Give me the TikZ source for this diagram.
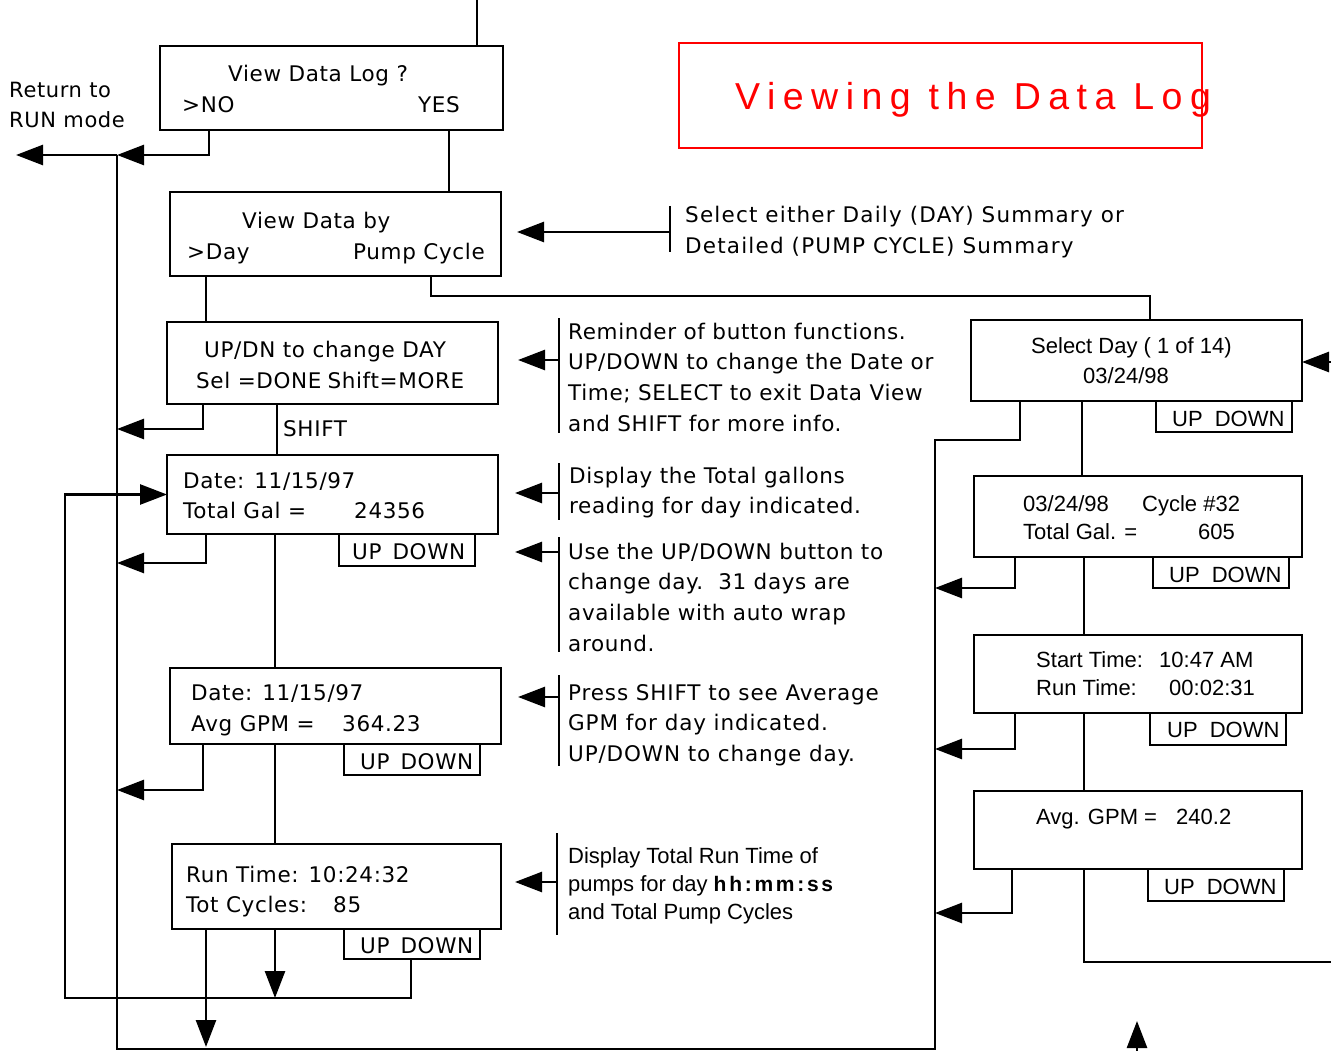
\documentclass[tikz,border=0pt]{standalone}
\usepackage{fontspec}
\setmainfont{DejaVu Sans}[LetterSpace=3]
\newfontfamily\arialfont{Liberation Sans}
\newfontfamily\titlefont{Liberation Sans}[LetterSpace=20]
\usetikzlibrary{arrows.meta}
\definecolor{titlered}{RGB}{255,0,0}
\begin{document}
\begin{tikzpicture}[x=1pt,y=-1pt,
  box/.style={draw, line width=2.8pt, inner sep=0pt, outer sep=0pt, anchor=north west},
  tab/.style={box, minimum width=136pt},
  ln/.style={line width=2.6pt},
  arr/.style={ln, -{Triangle[length=27pt,width=20pt]}},
  bar/.style={line width=2.4pt},
  txt/.style={anchor=base west, inner sep=0pt, font=\fontsize{21.5}{30.7}\selectfont},
  atxt/.style={anchor=base west, inner sep=0pt, font=\arialfont\fontsize{22}{28}\selectfont},
  ]
\fill[white] (0,0) rectangle (1331,1051);
\useasboundingbox (0,0) rectangle (1331,1051);

% ---------- title ----------
\node[box, draw=titlered, line width=2pt, minimum width=523pt, minimum height=105pt] (tbox) at (679,43) {};
\node[anchor=base west, inner sep=0pt, text=titlered, font=\titlefont\fontsize{37.5}{42}\selectfont] (ttl) at (735,110) {Viewing the Data Log};

% ---------- left column: daily summary ----------
\node[box, minimum width=343pt, minimum height=84pt] (b1) at (160,46) {};
\node[txt] (b1a) at (228,82) {View Data Log ?};
\node[txt] (b1b) at (182,113) {>NO};
\node[txt] (b1c) at (418,113) {YES};

\node[txt, font=\fontsize{21}{30}\selectfont] (ret) at (9,98) {\begin{tabular}[t]{@{}l@{}}Return to\\RUN mode\end{tabular}};

\node[box, minimum width=331pt, minimum height=84pt] (b2) at (170,192) {};
\node[txt] (b2a) at (242,229) {View Data by};
\node[txt] (b2b) at (187,260) {>Day};
\node[txt] (b2c) at (353,260) {Pump Cycle};

\node[box, minimum width=331pt, minimum height=82pt] (b3) at (167,322) {};
\node[txt] (b3a) at (204,357) {UP/DN to change DAY};
\node[txt] (b3b) at (196,388) {Sel =DONE\hspace{6pt}Shift=MORE};
\node[txt] (shift) at (283,436) {SHIFT};

\node[box, minimum width=331pt, minimum height=79pt] (b4) at (167,455) {};
\node[txt] (b4a) at (183,488) {Date: 11/15/97};
\node[txt] (b4b) at (183,518) {Total Gal =};
\node[txt] (b4c) at (354,518) {24356};
\node[tab, minimum height=32pt] (tab4) at (339,534) {};
\node[txt] (tab4t) at (352,559) {UP\hspace{11pt}DOWN};

\node[box, minimum width=331pt, minimum height=76pt] (b5) at (170,668) {};
\node[txt] (b5a) at (191,700) {Date: 11/15/97};
\node[txt] (b5b) at (191,731) {Avg GPM =};
\node[txt] (b5c) at (342,731) {364.23};
\node[tab, minimum height=31pt] (tab5) at (344,744) {};
\node[txt] (tab5t) at (360,769) {UP\hspace{11pt}DOWN};

\node[box, minimum width=329pt, minimum height=85pt] (b6) at (172,844) {};
\node[txt] (b6a) at (186,882) {Run Time: 10:24:32};
\node[txt] (b6b) at (186,912) {Tot Cycles:};
\node[txt] (b6c) at (333,912) {85};
\node[tab, minimum height=30pt] (tab6) at (344,929) {};
\node[txt] (tab6t) at (360,953) {UP\hspace{11pt}DOWN};

% ---------- notes ----------
\node[txt] (n1) at (685,223) {\addfontfeature{LetterSpace=5.5}\begin{tabular}[t]{@{}l@{}}Select either Daily (DAY) Summary or\\[0.3pt]Detailed (PUMP CYCLE) Summary\end{tabular}};
\node[txt] (n2) at (568,339) {\begin{tabular}[t]{@{}l@{}}Reminder of button functions.\\UP/DOWN to change the Date or\\Time; SELECT to exit Data View\\and SHIFT for more info.\end{tabular}};
\node[txt] (n3) at (569,483) {\begin{tabular}[t]{@{}l@{}}Display the Total gallons\\[-0.7pt]reading for day indicated.\end{tabular}};
\node[txt] (n4) at (568,559) {\begin{tabular}[t]{@{}l@{}}Use the UP/DOWN button to\\change day.\ \ 31 days are\\available with auto wrap\\around.\end{tabular}};
\node[txt] (n5) at (568,700) {\addfontfeature{LetterSpace=4}\begin{tabular}[t]{@{}l@{}}Press SHIFT to see Average\\GPM for day indicated.\\UP/DOWN to change day.\end{tabular}};
\node[atxt] (n6) at (568,863) {\begin{tabular}[t]{@{}l@{}}Display Total Run Time of\\pumps for day {\fontsize{21}{28}\selectfont\bfseries\addfontfeature{LetterSpace=13}hh:mm:ss}\\and Total Pump Cycles\end{tabular}};

% ---------- right column: pump cycle detail ----------
\node[box, minimum width=331pt, minimum height=81pt] (r1) at (971,320) {};
\node[atxt] (r1a) at (1031,353) {Select Day ( 1 of 14)};
\node[atxt] (r1b) at (1083,383) {03/24/98};
\node[tab, minimum height=31pt] (rt1) at (1156,401) {};
\node[atxt] (rt1t) at (1172,426) {UP\hspace{12pt}DOWN};

\node[box, minimum width=328pt, minimum height=81pt] (r2) at (974,476) {};
\node[atxt] (r2a) at (1023,511) {03/24/98};
\node[atxt] (r2b) at (1142,511) {Cycle \#32};
\node[atxt] (r2c) at (1023,539) {Total Gal. =};
\node[atxt] (r2d) at (1198,539) {605};
\node[tab, minimum height=31pt] (rt2) at (1153,557) {};
\node[atxt] (rt2t) at (1169,582) {UP\hspace{12pt}DOWN};

\node[box, minimum width=328pt, minimum height=78pt] (r3) at (974,635) {};
\node[atxt] (r3a) at (1036,667) {Start Time:};
\node[atxt] (r3b) at (1159,667) {10:47 AM};
\node[atxt] (r3c) at (1036,695) {Run Time:};
\node[atxt] (r3d) at (1169,695) {00:02:31};
\node[tab, minimum height=32pt] (rt3) at (1150,713) {};
\node[atxt] (rt3t) at (1167,737) {UP\hspace{12pt}DOWN};

\node[box, minimum width=328pt, minimum height=78pt] (r4) at (974,791) {};
\node[atxt] (r4a) at (1036,824) {Avg. GPM =};
\node[atxt] (r4b) at (1176,824) {240.2};
\node[tab, minimum height=32pt] (rt4) at (1148,869) {};
\node[atxt] (rt4t) at (1164,894) {UP\hspace{12pt}DOWN};

% ---------- ports and corners ----------
\coordinate (topin) at (477,0);
\coordinate (j1) at (117,155);
\coordinate (rtn) at (16,155);
\coordinate (nop) at ([xshift=49pt]b1.south west);
\coordinate (yesp) at ([xshift=289pt]b1.south west);
\coordinate (dayp) at ([xshift=36pt]b2.south west);
\coordinate (pumpp) at ([xshift=261pt]b2.south west);
\coordinate (pumpk) at (431,296);
\coordinate (r1in) at ([xshift=179pt]r1.north west);
\coordinate (b3l) at ([xshift=36pt]b3.south west);
\coordinate (b3c) at ([xshift=110pt]b3.south west);
\coordinate (b4l) at ([xshift=39pt]b4.south west);
\coordinate (b4c) at ([xshift=108pt]b4.south west);
\coordinate (b5l) at ([xshift=33pt]b5.south west);
\coordinate (b5c) at ([xshift=105pt]b5.south west);
\coordinate (b6l) at ([xshift=34pt]b6.south west);
\coordinate (b6c) at ([xshift=103pt]b6.south west);
\coordinate (t6p) at ([xshift=67pt]tab6.south west);
\coordinate (la3) at (117,429);
\coordinate (la4) at (117,563);
\coordinate (la5) at (117,790);
\coordinate (lp) at (65,998);
\coordinate (lk) at (117,1049);
\coordinate (rk1) at (935,440);
\coordinate (rk2) at (935,1049);
\coordinate (r1l) at ([xshift=49pt]r1.south west);
\coordinate (r1c) at ([xshift=111pt]r1.south west);
\coordinate (r2l) at ([xshift=41pt]r2.south west);
\coordinate (r2c) at ([xshift=110pt]r2.south west);
\coordinate (r3l) at ([xshift=41pt]r3.south west);
\coordinate (r3c) at ([xshift=110pt]r3.south west);
\coordinate (r4l) at ([xshift=38pt]r4.south west);
\coordinate (r4c) at ([xshift=110pt]r4.south west);
\coordinate (ra2) at (935,588);
\coordinate (ra3) at (935,749);
\coordinate (ra4) at (935,913);
\coordinate (rout) at (1331,962);
\coordinate (rin) at (1331,362);
\coordinate (upb) at (1137,1051);
\coordinate (upt) at (1137,1021);

% ---------- connectors ----------
\draw[ln] (topin) -- (topin |- b1.north);
\draw[arr] (nop) |- (j1);
\draw[arr] (j1) -- (rtn);
\draw[ln] (yesp) -- (yesp |- b2.north);
\draw[ln] (dayp) -- (dayp |- b3.north);
\draw[ln] (pumpp) -- (pumpk) -| (r1in);
\draw[arr] (b3l) |- (la3);
\draw[ln] (b3c) -- (b3c |- b4.north);
\draw[arr] (b4l) |- (la4);
\draw[ln] (b4c) -- (b4c |- b5.north);
\draw[arr] (b5l) |- (la5);
\draw[ln] (b5c) -- (b5c |- b6.north);
\draw[arr] (b6l) -- ([yshift=2pt]b6l |- lk);
\draw[arr] (b6c) -- (b6c |- lp);
\draw[arr] (t6p) |- (lp) |- (b4.west);
\draw[ln] (r1l) |- (rk1) -- (rk2) -- (lk) -- (j1);

\draw[ln] (r1c) -- (r1c |- r2.north);
\draw[arr] (r2l) |- (ra2);
\draw[ln] (r2c) -- (r2c |- r3.north);
\draw[arr] (r3l) |- (ra3);
\draw[ln] (r3c) -- (r3c |- r4.north);
\draw[arr] (r4l) |- (ra4);
\draw[ln] (r4c) |- (rout);
\draw[arr] (rin) -- (rin -| r1.east);
\draw[arr] (upb) -- (upt);

% ---------- note markers ----------
\coordinate (n1s) at (670,232); \coordinate (n1e) at (517,232);
\draw[bar] (670,206) coordinate (n1t) -- (670,252) coordinate (n1b);
\draw[arr] (n1s) -- (n1e);
\coordinate (n2s) at (559,360); \coordinate (n2e) at (518,360);
\draw[bar] (559,318) coordinate (n2t) -- (559,433) coordinate (n2b);
\draw[arr] (n2s) -- (n2e);
\coordinate (n3s) at (559,493); \coordinate (n3e) at (515,493);
\draw[bar] (559,463) coordinate (n3t) -- (559,520) coordinate (n3b);
\draw[arr] (n3s) -- (n3e);
\coordinate (n4s) at (559,552); \coordinate (n4e) at (515,552);
\draw[bar] (559,537) coordinate (n4t) -- (559,652) coordinate (n4b);
\draw[arr] (n4s) -- (n4e);
\coordinate (n5s) at (559,697); \coordinate (n5e) at (518,697);
\draw[bar] (559,675) coordinate (n5t) -- (559,766) coordinate (n5b);
\draw[arr] (n5s) -- (n5e);
\coordinate (n6s) at (557,882); \coordinate (n6e) at (515,882);
\draw[bar] (557,833) coordinate (n6t) -- (557,935) coordinate (n6b);
\draw[arr] (n6s) -- (n6e);
\end{tikzpicture}
\end{document}
